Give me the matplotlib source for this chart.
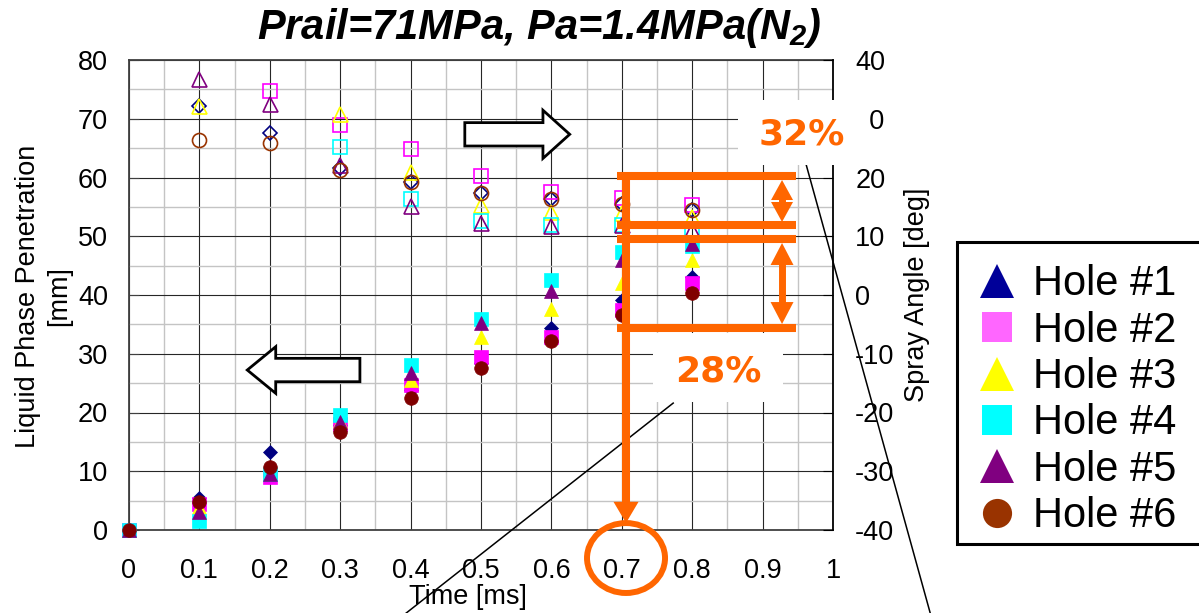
import numpy as np
import matplotlib
matplotlib.use('Agg')
import matplotlib.pyplot as plt
from matplotlib.patches import Rectangle, Polygon, Ellipse
from matplotlib.lines import Line2D

plt.rcParams['font.family'] = ['Liberation Sans', 'DejaVu Sans']
plt.rcParams['mathtext.default'] = 'regular'
plt.rcParams['axes.unicode_minus'] = False

# ---------------- data ----------------
time_ms = [0, 0.1, 0.2, 0.3, 0.4, 0.5, 0.6, 0.7, 0.8]
hole_labels = ['Hole #1', 'Hole #2', 'Hole #3', 'Hole #4', 'Hole #5', 'Hole #6']

# liquid phase penetration [mm] (filled markers, left axis)
pen_hole1 = [0, 5.5, 13.3, 17.8, 23.8, 28.5, 34.3, 39.1, 43.1]
pen_hole2 = [0, 4.5, 9.0, 18.0, 24.7, 29.4, 32.8, 37.4, 42.0]
pen_hole3 = [0, 4.0, 10.0, 18.5, 25.5, 32.8, 37.6, 42.0, 46.0]
pen_hole4 = [0, 1.6, 9.5, 19.6, 28.1, 36.0, 42.6, 47.4, 48.3]
pen_hole5 = [0, 3.0, 9.6, 18.4, 26.8, 35.3, 40.6, 46.0, 48.6]
pen_hole6 = [0, 4.7, 10.7, 16.7, 22.4, 27.5, 32.1, 36.6, 40.3]

# spray angle [deg] (open markers, right axis)
nan = np.nan
ang_hole1 = [nan, 32.2, 27.6, 21.6, 19.3, 17.4, 16.3, 15.5, 14.5]
ang_hole2 = [nan, nan, 34.7, 28.9, 24.8, 20.3, 17.6, 16.5, 15.3]
ang_hole3 = [nan, 32.2, nan, 30.8, 21.0, 15.3, 14.2, 14.0, 13.3]
ang_hole4 = [nan, nan, nan, 25.2, 16.3, 12.6, 11.9, 11.9, 11.1]
ang_hole5 = [nan, 36.7, 32.5, 22.1, 15.1, 12.3, 11.8, 12.0, 11.1]
ang_hole6 = [nan, 26.4, 25.9, 21.3, 19.3, 17.4, 16.3, 15.5, 14.5]

x_ticks = [0, 0.1, 0.2, 0.3, 0.4, 0.5, 0.6, 0.7, 0.8, 0.9, 1.0]
x_tick_labels = ['0', '0.1', '0.2', '0.3', '0.4', '0.5', '0.6', '0.7', '0.8', '0.9', '1']
left_ticks = [0, 10, 20, 30, 40, 50, 60, 70, 80]
right_ticks = [-40, -30, -20, -10, 0, 10, 20, 30, 40]

pen_series = [pen_hole1, pen_hole2, pen_hole3, pen_hole4, pen_hole5, pen_hole6]
ang_series = [ang_hole1, ang_hole2, ang_hole3, ang_hole4, ang_hole5, ang_hole6]

# ---------------- styles ----------------
data_colors = ['#000080', '#FF00FF', '#FFFF00', '#00FFFF', '#800080', '#800000']
open_colors = ['#000080', '#FF00FF', '#FFFF00', '#00FFFF', '#800080', '#993300']
legend_colors = ['#000099', '#FF66FF', '#FFFF00', '#00FFFF', '#800080', '#993300']
data_markers = ['D', 's', '^', 's', '^', 'o']
legend_markers = ['^', 's', '^', 's', '^', 'o']
filled_sizes = {'D': 7.3, 's': 9.5, '^': 10.5, 'o': 9.8}
legend_sizes = {'^': 25, 's': 21, 'o': 21}
ORANGE = '#FF6600'

W, H = 1199, 613
fig = plt.figure(figsize=(W / 100, H / 100), dpi=100)
ax = fig.add_axes([129 / W, 1 - 530 / H, 704 / W, 470 / H])
ax2 = ax.twinx()

ax.set_xlim(0, 1)
ax.set_ylim(0, 80)
ax2.set_ylim(-40, 40)

# grid
ax.set_xticks(x_ticks)
ax.set_xticks(np.arange(0.05, 1.0, 0.1), minor=True)
ax.set_yticks(left_ticks)
ax.set_yticks(np.arange(5, 80, 10), minor=True)
ax.grid(which='minor', color='#c4c4c4', lw=1.0)
ax.grid(which='major', color='#262626', lw=0.8)
ax.set_axisbelow(True)
ax.set_xticklabels(x_tick_labels)
ax.tick_params(axis='x', which='both', length=0, labelsize=19.5, pad=20)
ax.tick_params(axis='y', which='major', direction='in', length=7, color='#404040',
               labelsize=19.5, pad=15)
ax.tick_params(axis='y', which='minor', length=0)
ax2.set_yticks(right_ticks)
ax2.set_yticklabels([str(v) for v in right_ticks])
ax2.tick_params(axis='y', which='major', direction='in', length=7, color='black',
                labelsize=19.5, pad=16)
for s in ['left', 'top', 'bottom']:
    ax2.spines[s].set_visible(False)
ax2.spines['right'].set_color('black')
ax2.spines['right'].set_linewidth(1.3)
ax.spines['right'].set_visible(False)
for s in ['left', 'bottom', 'top']:
    ax.spines[s].set_color('#404040')
    ax.spines[s].set_linewidth(1.3)

# filled markers: penetration
for vals, c, m in zip(pen_series, data_colors, data_markers):
    ax.plot(time_ms, vals, linestyle='none', marker=m, ms=filled_sizes[m],
            mfc=c, mec=c, mew=0.5, clip_on=False, zorder=3)

# open markers: spray angle
for vals, c, m in zip(ang_series, open_colors, data_markers):
    ax2.plot(time_ms, vals, linestyle='none', marker=m, ms=filled_sizes[m] + 0.3,
             mfc='none', mec=c, mew=1.2, clip_on=False, zorder=3)

# labels
fig.text(539 / W, 1 - 39 / H, r'Prail=71MPa, Pa=1.4MPa(N$_2$)', ha='center', va='baseline',
         fontsize=30, fontweight='bold', fontstyle='italic')
fig.text(44 / W, 1 - 296 / H, 'Liquid Phase Penetration\n[mm]', rotation=90,
         ha='center', va='center', multialignment='center', fontsize=19.5, linespacing=1.25)
fig.text(917 / W, 1 - 295 / H, 'Spray Angle [deg]', rotation=90,
         ha='center', va='center', fontsize=19.5)
fig.text(468 / W, 1 - 597 / H, 'Time [ms]', ha='center', va='center', fontsize=19.5)

# ---------------- annotations ----------------
T = ax.transData
# hollow arrows
ra = Polygon([(0.477, 67.35 - 1.99), (0.588, 67.35 - 1.99), (0.588, 67.35 - 4.1),
              (0.626, 67.35), (0.588, 67.35 + 4.1), (0.588, 67.35 + 1.99),
              (0.477, 67.35 + 1.99)], closed=True, fc='white', ec='black', lw=2,
             transform=T, zorder=6)
ax2.add_patch(ra)
la = Polygon([(0.328, 27.23 - 1.99), (0.2084, 27.23 - 1.99), (0.2084, 27.23 - 3.97),
              (0.168, 27.23), (0.2084, 27.23 + 3.97), (0.2084, 27.23 + 1.99),
              (0.328, 27.23 + 1.99)], closed=True, fc='white', ec='black', lw=2,
             transform=T, zorder=6)
ax2.add_patch(la)

# thin black leader lines
ax2.add_line(Line2D([0.392, 0.773], [-14.3, 21.6], color='black', lw=1.1,
                    transform=T, clip_on=False, zorder=8))
ax2.add_line(Line2D([0.960, 1.138], [63.0, -14.1], color='black', lw=1.1,
                    transform=T, clip_on=False, zorder=8))

# white label boxes
ax2.add_patch(Rectangle((0.865, 62.1), 0.1868, 11.1, fc='white', ec='none',
                        transform=T, clip_on=False, zorder=9))
ax2.add_patch(Rectangle((0.744, 21.8), 0.185, 11.7, fc='white', ec='none',
                        transform=T, clip_on=False, zorder=9))
ax2.text(0.956, 67.4, '32%', transform=T, color=ORANGE, fontsize=26, fontweight='bold',
         family='DejaVu Sans', ha='center', va='center', zorder=10, clip_on=False)
ax2.text(0.837, 26.9, '28%', transform=T, color=ORANGE, fontsize=26, fontweight='bold',
         family='DejaVu Sans', ha='center', va='center', zorder=10, clip_on=False)

# orange bracket lines
for yv in [60.3, 51.9, 49.5, 34.4]:
    ax2.add_line(Line2D([0.693, 0.947], [yv, yv], color=ORANGE, lw=5.8,
                        solid_capstyle='butt', transform=T, zorder=11, clip_on=False))
ax2.add_line(Line2D([0.706, 0.706], [61.0, 4.5], color=ORANGE, lw=5.8,
                    solid_capstyle='butt', transform=T, zorder=11, clip_on=False))
ax2.add_patch(Polygon([(0.706 - 0.0178, 4.8), (0.706 + 0.0178, 4.8), (0.706, 1.2)],
                      closed=True, fc=ORANGE, ec='none', transform=T, zorder=11,
                      clip_on=False))


def double_arrow(x, ytop, ybot, hl, hw):
    ax2.add_line(Line2D([x, x], [ytop - hl + 0.3, ybot + hl - 0.3], color=ORANGE, lw=5,
                        solid_capstyle='butt', transform=T, zorder=11))
    ax2.add_patch(Polygon([(x - hw, ytop - hl), (x + hw, ytop - hl), (x, ytop)],
                          closed=True, fc=ORANGE, ec='none', transform=T, zorder=11))
    ax2.add_patch(Polygon([(x - hw, ybot + hl), (x + hw, ybot + hl), (x, ybot)],
                          closed=True, fc=ORANGE, ec='none', transform=T, zorder=11))


double_arrow(0.9276, 59.57, 52.43, 3.4, 0.0156)
double_arrow(0.9276, 48.85, 35.06, 3.74, 0.0163)

ax2.add_patch(Ellipse((0.706, -4.77), 0.1108, 11.9, fill=False, ec=ORANGE, lw=4.3,
                      transform=T, clip_on=False, zorder=11))

# ---------------- legend ----------------
fig.add_artist(Rectangle((956.5 / W, 1 - 543.5 / H), 260 / W, 302 / H, fc='white',
                         ec='black', lw=2.2, transform=fig.transFigure))
for i, (lab, c, m) in enumerate(zip(hole_labels, legend_colors, legend_markers)):
    yc = 281 + 46.3 * i
    fig.add_artist(Line2D([997 / W], [1 - yc / H], marker=m, ms=legend_sizes[m],
                          mfc=c, mec=c, mew=0, linestyle='none',
                          transform=fig.transFigure))
    fig.text(1033 / W, 1 - (yc + 14.5) / H, lab, ha='left', va='baseline', fontsize=30)

fig.savefig('out.png', dpi=100)
